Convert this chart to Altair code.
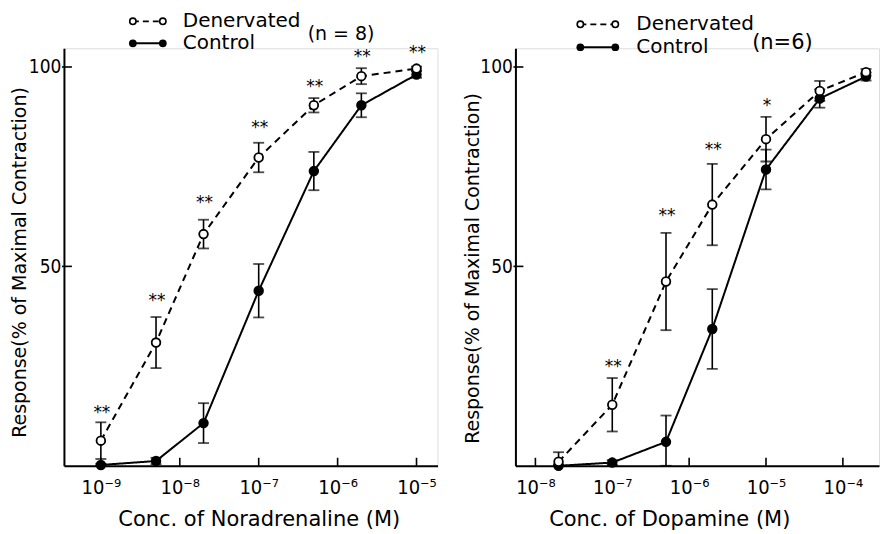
import altair as alt
import pandas as pd

# ---------------- data ----------------
# Left panel: Noradrenaline
na_conc = [1e-9, 5e-9, 2e-8, 1e-7, 5e-7, 2e-6, 1e-5]
na_den_mean = [6.3, 30.9, 58.1, 77.3, 90.4, 97.7, 99.6]
na_den_se = [4.6, 6.4, 3.6, 3.7, 1.8, 2.0, 0.5]
na_ctl_mean = [0.2, 1.2, 10.7, 43.9, 73.9, 90.4, 98.1]
na_ctl_se = [0.3, 0.8, 5.0, 6.7, 4.8, 3.0, 0.8]
na_star_conc = [1e-9, 5e-9, 2e-8, 1e-7, 5e-7, 2e-6, 1e-5]
na_star_y = [14.3, 42.4, 67.0, 85.7, 96.0, 103.5, 104.5]
na_star_txt = ["**", "**", "**", "**", "**", "**", "**"]
na_ticks = [1e-9, 1e-8, 1e-7, 1e-6, 1e-5]

# Right panel: Dopamine
da_conc = [2e-8, 1e-7, 5e-7, 2e-6, 1e-5, 5e-5, 2e-4]
da_den_mean = [1.0, 15.3, 46.2, 65.5, 81.9, 94.0, 98.7]
da_den_se = [2.4, 6.7, 12.2, 10.2, 5.6, 2.5, 0.8]
da_ctl_mean = [0.0, 0.8, 6.0, 34.3, 74.3, 92.1, 97.6]
da_ctl_se = [0.3, 0.6, 6.6, 10.0, 5.0, 2.3, 1.0]
da_star_conc = [1e-7, 5e-7, 2e-6, 1e-5]
da_star_y = [25.8, 63.7, 80.2, 91.2]
da_star_txt = ["**", "**", "**", "*"]
da_ticks = [1e-8, 1e-7, 1e-6, 1e-5, 1e-4]

y_ticks = [50, 100]
groups = ["Denervated", "Control"]

FONT = "DejaVu Sans Condensed, Liberation Sans Narrow, DejaVu Sans"
TFONT = "DejaVu Sans"
H = 418
YMAX = 104.7

SUP = {"-": "\u207b", "0": "\u2070", "1": "\u00b9", "2": "\u00b2", "3": "\u00b3",
       "4": "\u2074", "5": "\u2075", "6": "\u2076", "7": "\u2077", "8": "\u2078", "9": "\u2079"}


def sup_label(t):
    import math
    e = int(round(math.log10(t)))
    return "10" + "".join(SUP[c] for c in str(e))


def label_expr(ticks):
    import math
    expr = "''"
    for t in reversed(ticks):
        e = int(round(math.log10(t)))
        expr = f"(abs(log(datum.value)/LN10 - ({e})) < 0.01 ? '{sup_label(t)}' : {expr})"
    return expr


def panel(conc, dm, dse, cm, cse, sconc, sy, stxt, ticks, xdom, width, xtitle,
          title_x, ytitle_x, ytitle_y, ntext, nsize, leg):
    rows = []
    for g, m, s in (("Control", cm, cse), ("Denervated", dm, dse)):
        for c, mv, sv in zip(conc, m, s):
            rows.append({"conc": c, "mean": mv, "lo": max(0.0, mv - sv),
                         "hi": mv + sv, "group": g})
    df = pd.DataFrame(rows)
    caps = pd.concat([
        df[["conc", "group"]].assign(v=df["lo"]),
        df[["conc", "group"]].assign(v=df["hi"]),
    ])
    stars = pd.DataFrame({"conc": sconc, "y": sy, "txt": stxt})
    xt = pd.DataFrame({"t": ticks})
    yt = pd.DataFrame({"v": y_ticks})

    xscale = alt.Scale(type="log", domain=xdom, nice=False)
    yscale = alt.Scale(domain=[0, YMAX], nice=False, zero=False)
    xaxis = alt.Axis(values=ticks, labelExpr=label_expr(ticks), ticks=False,
                     grid=False, domainColor="black", domainWidth=2,
                     labelFont=FONT, labelFontSize=20, labelColor="black",
                     labelPadding=12, labelFlush=False,
                     title=xtitle, titleFont=TFONT, titleFontSize=21,
                     titleFontWeight="normal", titleColor="black",
                     titleX=title_x, titleY=54, titleBaseline="middle")
    yaxis = alt.Axis(values=y_ticks, ticks=False, grid=False, domainColor="black",
                     domainWidth=2, labelFont=FONT, labelFontSize=19,
                     labelColor="black", labelPadding=3,
                     title="Response(% of Maximal Contraction)", titleFont=TFONT,
                     titleFontSize=19, titleFontWeight="normal", titleColor="black",
                     titleX=ytitle_x, titleY=ytitle_y, titleBaseline="middle",
                     titleAngle=270)

    X = alt.X("conc:Q", scale=xscale, axis=xaxis)
    Y = alt.Y("mean:Q", scale=yscale, axis=yaxis)
    dash = alt.StrokeDash("group:N", scale=alt.Scale(domain=groups, range=[[7, 5], [1, 0]]),
                          legend=None)
    base = alt.Chart(df)
    lines = base.mark_line(color="black", strokeWidth=2).encode(x=X, y=Y, strokeDash=dash,
                                                               detail="group:N")
    bars = base.mark_rule(color="black", strokeWidth=1.6).encode(
        x="conc:Q", y="lo:Q", y2="hi:Q")
    capl = alt.Chart(caps).mark_tick(orient="horizontal", color="black", size=11,
                                     thickness=1.8).encode(x="conc:Q", y="v:Q")
    pts = base.mark_point(shape="circle", filled=True, stroke="black", strokeWidth=1.8,
                          size=75, opacity=1).encode(
        x="conc:Q", y="mean:Q",
        fill=alt.Fill("group:N", scale=alt.Scale(domain=groups, range=["white", "black"]),
                      legend=None))
    star = alt.Chart(stars).mark_text(font=TFONT, fontSize=17, color="black",
                                      baseline="middle", dx=1, dy=4).encode(
        x="conc:Q", y="y:Q", text="txt:N")
    xtick = alt.Chart(xt).mark_rule(color="black", strokeWidth=1.6).encode(
        x="t:Q", y=alt.value(H), y2=alt.value(H - 8))
    ytick = alt.Chart(yt).mark_rule(color="black", strokeWidth=1.6).encode(
        y="v:Q", x=alt.value(-2), x2=alt.value(8))

    one = alt.Data(values=[{"k": 1}])
    (lx0, lx1, ly_d, ly_c, tx, nx, ny) = leg
    leg_layers = [
        alt.Chart(one).mark_rule(color="black", strokeWidth=1.8, strokeDash=[6, 4]).encode(
            x=alt.value(lx0), x2=alt.value(lx1), y=alt.value(ly_d)),
        alt.Chart(one).mark_rule(color="black", strokeWidth=2).encode(
            x=alt.value(lx0), x2=alt.value(lx1), y=alt.value(ly_c)),
        alt.Chart(one).mark_point(shape="circle", filled=True, fill="white", stroke="black",
                                  strokeWidth=1.6, size=40, opacity=1).encode(
            x=alt.value(lx0), y=alt.value(ly_d)),
        alt.Chart(one).mark_point(shape="circle", filled=True, fill="white", stroke="black",
                                  strokeWidth=1.6, size=40, opacity=1).encode(
            x=alt.value(lx1), y=alt.value(ly_d)),
        alt.Chart(one).mark_point(shape="circle", filled=True, fill="black", size=60,
                                  opacity=1).encode(x=alt.value(lx0), y=alt.value(ly_c)),
        alt.Chart(one).mark_point(shape="circle", filled=True, fill="black", size=60,
                                  opacity=1).encode(x=alt.value(lx1), y=alt.value(ly_c)),
        alt.Chart(one).mark_text(font=TFONT, fontSize=20, align="left", baseline="middle",
                                 color="black").encode(
            x=alt.value(tx), y=alt.value(ly_d), text=alt.value(groups[0])),
        alt.Chart(one).mark_text(font=TFONT, fontSize=20, align="left", baseline="middle",
                                 color="black").encode(
            x=alt.value(tx), y=alt.value(ly_c), text=alt.value(groups[1])),
        alt.Chart(one).mark_text(font=TFONT, fontSize=nsize, align="left", baseline="middle",
                                 color="black").encode(
            x=alt.value(nx), y=alt.value(ny), text=alt.value(ntext)),
    ]
    return alt.layer(lines, bars, capl, pts, star, xtick, ytick, *leg_layers).properties(
        width=width, height=H)


left = panel(na_conc, na_den_mean, na_den_se, na_ctl_mean, na_ctl_se,
             na_star_conc, na_star_y, na_star_txt, na_ticks,
             [10 ** -9.468, 10 ** -4.734], 374, "Conc. of Noradrenaline (M)",
             195, -44, 214, "(n = 8)", 19,
             (69, 99, -27, -5, 119, 244, -14))
right = panel(da_conc, da_den_mean, da_den_se, da_ctl_mean, da_ctl_se,
              da_star_conc, da_star_y, da_star_txt, da_ticks,
              [10 ** -8.26, 10 ** -3.53], 364, "Conc. of Dopamine (M)",
              154, -43, 220, "(n=6)", 21,
              (65, 100, -24, -1, 121, 237, -5))

chart = alt.hconcat(left, right, spacing=78, bounds="flush").properties(
    padding={"left": 2, "top": 2, "right": 0, "bottom": 0}
).configure_view(stroke=None).configure(background="white")

chart.save("out.html", embed_options={"renderer": "svg", "actions": False})
